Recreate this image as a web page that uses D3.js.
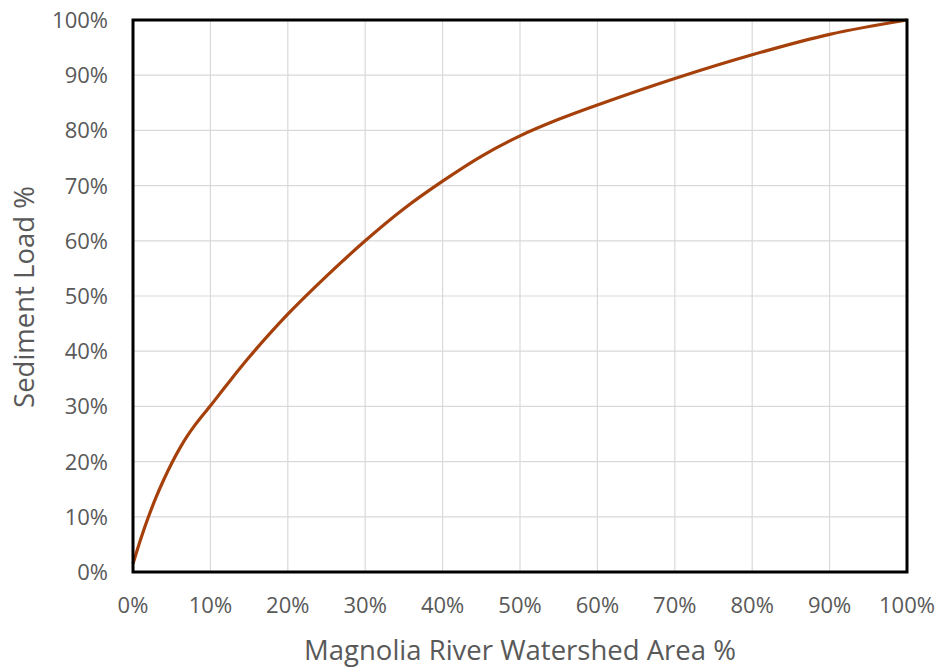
<!DOCTYPE html>
<html><head><meta charset="utf-8">
<script src="https://cdn.jsdelivr.net/npm/d3@7"></script>
<style>body{margin:0;background:#fff;} text{font-family:"Open Sans",sans-serif;fill:#595959;}</style>
</head><body>
<svg id="c" width="939" height="668"></svg>
<script>
const areaPct = [0, 1, 2, 3, 4, 5, 6, 7, 8, 9, 10, 12, 15, 20, 25, 30, 35, 40, 45, 50, 55, 60, 70, 80, 90, 100];
const loadPct = [1.5, 6, 10, 13.6, 16.8, 19.7, 22.3, 24.6, 26.6, 28.4, 30.1, 33.7, 38.9, 46.7, 53.6, 60, 65.8, 70.8, 75.3, 79, 82, 84.6, 89.4, 93.7, 97.4, 100];
const xTicks = [0,10,20,30,40,50,60,70,80,90,100];
const yTicks = [0,10,20,30,40,50,60,70,80,90,100];
const xTitle = "Magnolia River Watershed Area %";
const yTitle = "Sediment Load %";

const svg = d3.select("#c");
const L=133, R=907, T=20, B=572;
const x = d3.scaleLinear().domain([0,100]).range([L,R]);
const y = d3.scaleLinear().domain([0,100]).range([B,T]);

svg.append("g").selectAll("line.v").data(xTicks).join("line")
  .attr("x1",d=>x(d)).attr("x2",d=>x(d)).attr("y1",T).attr("y2",B)
  .attr("stroke","#d9d9d9").attr("stroke-width",1.2);
svg.append("g").selectAll("line.h").data(yTicks).join("line")
  .attr("y1",d=>y(d)).attr("y2",d=>y(d)).attr("x1",L).attr("x2",R)
  .attr("stroke","#d9d9d9").attr("stroke-width",1.2);

const data = areaPct.map((a,i)=>[a,loadPct[i]]);
svg.append("path").datum(data)
  .attr("d", d3.line().x(d=>x(d[0])).y(d=>y(d[1])).curve(d3.curveCatmullRom.alpha(0.5)))
  .attr("fill","none").attr("stroke","#a5400b").attr("stroke-width",3.2);

svg.append("rect").attr("x",L).attr("y",T).attr("width",R-L).attr("height",B-T)
  .attr("fill","none").attr("stroke","#000").attr("stroke-width",3);

svg.append("g").selectAll("text").data(xTicks).join("text")
  .attr("x",d=>x(d)).attr("y",613).attr("text-anchor","middle")
  .attr("font-size",22).text(d=>d+"%");
svg.append("g").selectAll("text").data(yTicks).join("text")
  .attr("x",108).attr("y",d=>y(d)+8).attr("text-anchor","end")
  .attr("font-size",22).text(d=>d+"%");

svg.append("text").attr("x",520).attr("y",660).attr("text-anchor","middle")
  .attr("font-size",27.5).text(xTitle);
svg.append("text").attr("transform","translate(34,297) rotate(-90)").attr("text-anchor","middle")
  .attr("font-size",27.5).text(yTitle);
</script>
</body></html>
